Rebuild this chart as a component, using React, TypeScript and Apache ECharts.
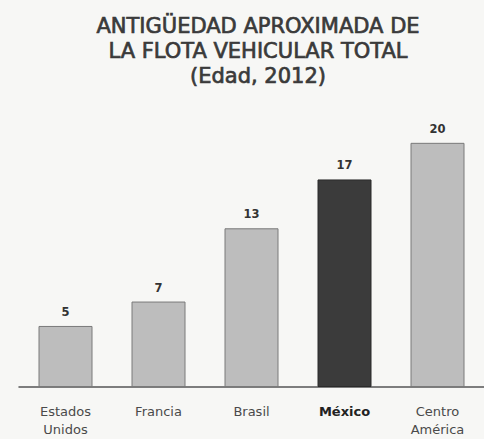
import React, { useEffect, useRef } from "react";
import * as echarts from "echarts";

const categories = ["Estados\nUnidos", "Francia", "Brasil", "México", "Centro\nAmérica"];
const values = [5, 7, 13, 17, 20];
const highlight = "México";

export default function App() {
  const ref = useRef<HTMLDivElement>(null);
  useEffect(() => {
    if (!ref.current) return;
    const chart = echarts.init(ref.current, null, { renderer: "svg" });
    chart.setOption({
      animation: false,
      backgroundColor: "#f7f7f5",
      title: {
        text: "ANTIGÜEDAD APROXIMADA DE\nLA FLOTA VEHICULAR TOTAL\n(Edad, 2012)",
        left: 253,
        textAlign: "center",
        top: 8,
        textStyle: {
          fontFamily: "DejaVu Sans",
          fontSize: 21,
          fontWeight: "normal",
          color: "#3a3a3a",
          textBorderColor: "#3a3a3a",
          textBorderWidth: 0.7,
          lineHeight: 25,
        },
      },
      grid: { left: 19, right: -5, top: 94, bottom: 52, containLabel: false },
      xAxis: {
        type: "category",
        data: categories,
        axisLine: { lineStyle: { color: "#555", width: 1.5 } },
        axisTick: { show: false },
        axisLabel: {
          interval: 0,
          margin: 15,
          fontFamily: "DejaVu Sans",
          fontSize: 13,
          lineHeight: 18,
          color: "#4a4a4a",
          formatter: (v: string) => (v === highlight ? "{b|" + v + "}" : v),
          rich: {
            b: { fontFamily: "DejaVu Sans", fontSize: 13, fontWeight: "bold", color: "#222" },
          },
        },
      },
      yAxis: { type: "value", min: 0, max: 24, show: false, splitLine: { show: false } },
      series: [
        {
          type: "bar",
          barWidth: 54,
          data: values.map((v, i) => ({
            value: v,
            itemStyle:
              categories[i] === highlight
                ? { color: "#3b3b3b", borderColor: "#2a2a2a", borderWidth: 1 }
                : { color: "#bdbdbd", borderColor: "#7a7a7a", borderWidth: 1 },
          })),
          label: {
            show: true,
            position: "top",
            distance: 8,
            fontFamily: "DejaVu Sans",
            fontSize: 11.5,
            fontWeight: "bold",
            color: "#333",
          },
        },
      ],
    });
    return () => chart.dispose();
  }, []);
  return (
    <div
      ref={ref}
      style={{ position: "fixed", left: 0, top: 0, width: 484, height: 439 }}
    />
  );
}
